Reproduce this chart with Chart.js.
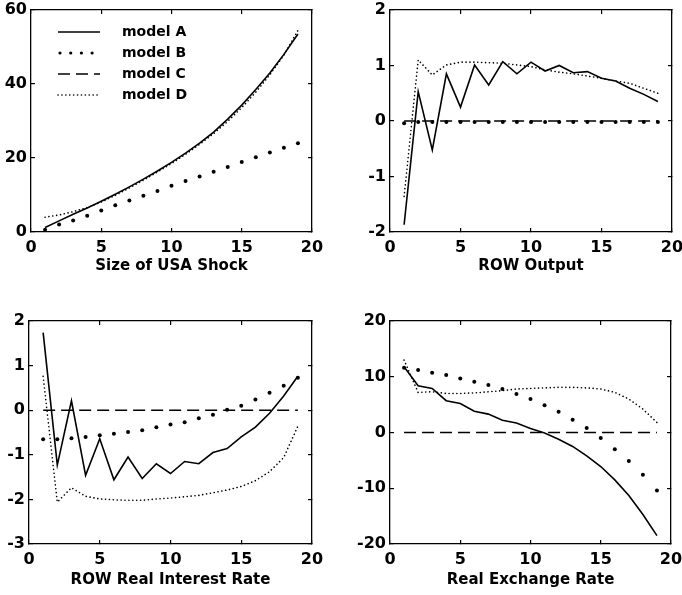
<!DOCTYPE html>
<html>
<head>
<meta charset="utf-8">
<script src="https://cdn.jsdelivr.net/npm/chart.js@4/dist/chart.umd.min.js"></script>
<style>
  body { margin: 0; background: #fff; }
  #wrap { position: relative; width: 682px; height: 595px; }
  canvas { position: absolute; }
</style>
</head>
<body>
<div id="wrap">
  <canvas id="c1" width="341" height="290" style="left:0;top:0"></canvas>
  <canvas id="c2" width="341" height="290" style="left:341px;top:0"></canvas>
  <canvas id="c3" width="341" height="305" style="left:0;top:290px"></canvas>
  <canvas id="c4" width="341" height="305" style="left:341px;top:290px"></canvas>
</div>
<script>
const steps = [1, 2, 3, 4, 5, 6, 7, 8, 9, 10, 11, 12, 13, 14, 15, 16, 17, 18, 19];
const modelNames = ["model A", "model B", "model C", "model D"];

// Size of USA Shock
const shockA = [1.2, 3.0, 4.8, 6.5, 8.3, 10.2, 12.2, 14.3, 16.5, 18.8, 21.3, 24.0, 27.0, 30.5, 34.3, 38.5, 43.0, 48.0, 53.5];
const shockB = [0.6, 2.0, 3.1, 4.4, 5.8, 7.2, 8.5, 9.8, 11.1, 12.5, 13.8, 15.0, 16.3, 17.6, 18.9, 20.2, 21.5, 22.8, 24.0];
const shockC = [0, 0, 0, 0, 0, 0, 0, 0, 0, 0, 0, 0, 0, 0, 0, 0, 0, 0, 0];
const shockD = [4.0, 4.6, 5.5, 6.6, 8.1, 9.9, 11.9, 14.0, 16.2, 18.5, 21.0, 23.7, 26.6, 29.9, 33.6, 37.8, 42.5, 47.8, 54.5];

// ROW Output
const outputA = [-1.87, 0.53, -0.52, 0.85, 0.25, 1.01, 0.65, 1.07, 0.85, 1.06, 0.90, 1.00, 0.87, 0.89, 0.77, 0.72, 0.59, 0.48, 0.35];
const outputB = [-0.04, -0.02, -0.02, -0.02, -0.02, -0.02, -0.02, -0.02, -0.02, -0.02, -0.02, -0.02, -0.02, -0.02, -0.02, -0.02, -0.02, -0.02, -0.02];
const outputC = [0, 0, 0, 0, 0, 0, 0, 0, 0, 0, 0, 0, 0, 0, 0, 0, 0, 0, 0];
const outputD = [-1.36, 1.10, 0.83, 1.01, 1.06, 1.06, 1.05, 1.04, 1.01, 0.98, 0.92, 0.88, 0.85, 0.81, 0.77, 0.72, 0.68, 0.59, 0.50];

// ROW Real Interest Rate
const rateA = [1.74, -1.23, 0.21, -1.46, -0.64, -1.56, -1.05, -1.53, -1.20, -1.42, -1.15, -1.20, -0.95, -0.86, -0.60, -0.38, -0.07, 0.32, 0.76];
const rateB = [-0.65, -0.65, -0.63, -0.60, -0.56, -0.53, -0.49, -0.45, -0.38, -0.32, -0.27, -0.18, -0.10, 0.01, 0.10, 0.24, 0.39, 0.55, 0.73];
const rateC = [0, 0, 0, 0, 0, 0, 0, 0, 0, 0, 0, 0, 0, 0, 0, 0, 0, 0, 0];
const rateD = [0.76, -2.06, -1.74, -1.93, -1.99, -2.01, -2.02, -2.02, -1.99, -1.97, -1.94, -1.91, -1.85, -1.79, -1.71, -1.58, -1.38, -1.06, -0.36];

// Real Exchange Rate
const exchA = [11.8, 8.4, 7.9, 5.7, 5.2, 3.8, 3.3, 2.2, 1.7, 0.7, -0.1, -1.2, -2.5, -4.2, -6.1, -8.5, -11.3, -14.7, -18.5];
const exchB = [11.6, 11.2, 10.7, 10.3, 9.7, 9.1, 8.5, 7.8, 6.9, 6.0, 4.9, 3.7, 2.3, 0.8, -1.0, -3.0, -5.1, -7.6, -10.4];
const exchC = [0, 0, 0, 0, 0, 0, 0, 0, 0, 0, 0, 0, 0, 0, 0, 0, 0, 0, 0];
const exchD = [13.0, 7.2, 7.3, 7.0, 7.0, 7.1, 7.3, 7.5, 7.8, 7.9, 8.0, 8.1, 8.1, 8.0, 7.8, 7.2, 6.0, 4.2, 1.8];

const FONT = "'DejaVu Sans', sans-serif";

function pts(ys) {
  return steps.map((x, i) => ({ x: x, y: ys[i] }));
}

function makeSets(a, b, c, d) {
  return [
    { label: modelNames[2], data: pts(c), borderColor: "#000", borderWidth: 1.5, borderDash: [12, 6], pointRadius: 0 },
    { label: modelNames[3], data: pts(d), borderColor: "#000", borderWidth: 1.6, borderDash: [0.1, 3.8], borderCapStyle: "round", pointRadius: 0 },
    { label: modelNames[1], data: pts(b), showLine: false, pointRadius: 2, pointBackgroundColor: "#000", pointBorderWidth: 0, borderColor: "#000" },
    { label: modelNames[0], data: pts(a), borderColor: "#000", borderWidth: 1.6, pointRadius: 0 }
  ];
}

// legend drawn inside the plot area (top-left)
const innerLegend = {
  id: "innerLegend",
  afterDraw(chart, args, opts) {
    if (!opts || !opts.show) return;
    const ctx = chart.ctx;
    const order = [3, 2, 0, 1]; // dataset index for model A, B, C, D
    ctx.save();
    ctx.font = "bold 14px " + FONT;
    ctx.fillStyle = "#000";
    ctx.strokeStyle = "#000";
    ctx.textBaseline = "middle";
    order.forEach((di, row) => {
      const ds = chart.data.datasets[di];
      const yy = opts.top + row * opts.gap;
      if (ds.showLine === false) {
        for (let k = 0; k < 4; k++) {
          ctx.beginPath();
          ctx.arc(opts.x0 + 2 + k * 10.7, yy, 1.6, 0, Math.PI * 2);
          ctx.fill();
        }
      } else {
        ctx.beginPath();
        ctx.lineWidth = ds.borderWidth;
        ctx.lineCap = ds.borderCapStyle || "butt";
        ctx.setLineDash(ds.borderDash || []);
        ctx.moveTo(opts.x0, yy);
        ctx.lineTo(opts.x1, yy);
        ctx.stroke();
      }
      ctx.fillText(ds.label, opts.tx, yy);
    });
    ctx.restore();
  }
};

function noPad(s) {
  s.paddingTop = 0; s.paddingBottom = 0; s.paddingLeft = 0; s.paddingRight = 0;
}

function makePanel(id, box, yMin, yMax, yStep, title, titlePad, sets, legend) {
  const cv = document.getElementById(id);
  const W = cv.width, H = cv.height;
  const tickFont = { family: FONT, size: 16, weight: "bold" };
  const inward = { display: true, drawOnChartArea: false, drawTicks: true, tickLength: -4, color: "#000", lineWidth: 1.2 };
  const frame = { display: true, color: "#000", width: 1.3 };
  new Chart(cv, {
    type: "line",
    data: { datasets: sets },
    plugins: [innerLegend],
    options: {
      responsive: false,
      animation: false,
      devicePixelRatio: 1,
      layout: { padding: { top: box.top, right: W - box.right, left: 0, bottom: 0 } },
      scales: {
        x: {
          type: "linear", position: "bottom", min: 0, max: 20,
          grid: inward, border: frame,
          ticks: { stepSize: 5, color: "#000", padding: 10, font: tickFont },
          title: { display: true, text: title, color: "#000", padding: { top: 0, bottom: titlePad }, font: { family: FONT, size: 15, weight: "bold" } },
          afterFit(s) { s.height = H - box.bottom; noPad(s); }
        },
        x2: {
          type: "linear", position: "top", min: 0, max: 20,
          grid: inward, border: frame,
          ticks: { stepSize: 5, display: false },
          afterFit(s) { s.height = 0; noPad(s); }
        },
        y: {
          position: "left", min: yMin, max: yMax,
          grid: inward, border: frame,
          ticks: { stepSize: yStep, color: "#000", padding: 8, font: tickFont },
          afterFit(s) { s.width = box.left; noPad(s); }
        },
        y2: {
          position: "right", min: yMin, max: yMax,
          grid: inward, border: frame,
          ticks: { stepSize: yStep, display: false },
          afterFit(s) { s.width = 0; noPad(s); }
        }
      },
      plugins: {
        legend: { display: false },
        tooltip: { enabled: false },
        innerLegend: legend || { show: false }
      }
    }
  });
}

makePanel("c1", { left: 31, right: 312, top: 10, bottom: 232 }, 0, 60, 20, "Size of USA Shock", 14.5,
  makeSets(shockA, shockB, shockC, shockD),
  { show: true, x0: 58, x1: 100, tx: 122, top: 32, gap: 21 });
makePanel("c2", { left: 49, right: 331, top: 10, bottom: 232 }, -2, 2, 1, "ROW Output", 14.5,
  makeSets(outputA, outputB, outputC, outputD));
makePanel("c3", { left: 29, right: 312, top: 31, bottom: 254 }, -3, 2, 1, "ROW Real Interest Rate", 6,
  makeSets(rateA, rateB, rateC, rateD));
makePanel("c4", { left: 49, right: 330, top: 31, bottom: 254 }, -20, 20, 10, "Real Exchange Rate", 6,
  makeSets(exchA, exchB, exchC, exchD));
</script>
</body>
</html>
